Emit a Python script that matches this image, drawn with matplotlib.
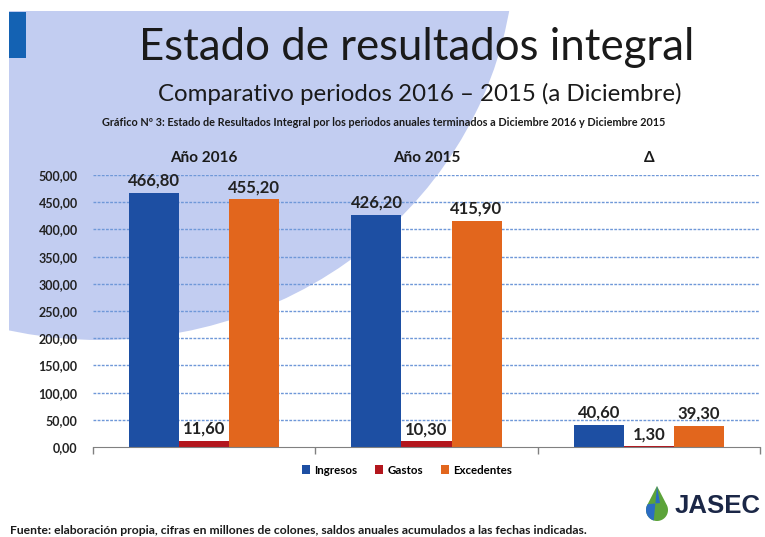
import matplotlib
matplotlib.use("Agg")
import matplotlib.pyplot as plt
import numpy as np
from matplotlib.transforms import Affine2D
from matplotlib.patches import Ellipse, Rectangle, Polygon

# ---- data ----
groups = ["Año 2016", "Año 2015", "Δ"]
series = ["Ingresos", "Gastos", "Excedentes"]
ingresos = [466.80, 426.20, 40.60]
gastos = [11.60, 10.30, 1.30]
excedentes = [455.20, 415.90, 39.30]
yticks = [0, 50, 100, 150, 200, 250, 300, 350, 400, 450, 500]
colors = ["#1d4fa3", "#b3161d", "#e2661d"]

W, H = 765, 537
fig = plt.figure(figsize=(W / 100, H / 100), dpi=100)
fig.patch.set_facecolor("white")
# pixel transform (origin top-left)
px = Affine2D().scale(1 / W, -1 / H).translate(0, 1) + fig.transFigure

FONT = "Lato"

# background decorations
fig.add_artist(Ellipse((100, -55), 830, 790, transform=px, facecolor="#c2cdf1",
                       edgecolor="none", zorder=-10))
fig.add_artist(Rectangle((0, 0), W, 11, transform=px, facecolor="white",
                         edgecolor="none", zorder=-9))
fig.add_artist(Rectangle((0, 0), 9, H, transform=px, facecolor="white",
                         edgecolor="none", zorder=-9))
fig.add_artist(Rectangle((9, 12), 17, 46, transform=px, facecolor="#1462b3",
                         edgecolor="none", zorder=-8))

# titles
fig.text(417, 48, "Estado de resultados integral", transform=px, ha="center",
         va="center", fontsize=31.5, family=FONT, color="#1a1a1a")
fig.text(420, 94, "Comparativo periodos 2016 – 2015 (a Diciembre)", transform=px,
         ha="center", va="center", fontsize=17.3, family=FONT, color="#1a1a1a")
fig.text(384, 122, "Gráfico Nº 3: Estado de Resultados Integral por los periodos anuales "
         "terminados a Diciembre 2016 y Diciembre 2015", transform=px, ha="center",
         va="center", fontsize=7.8, family=FONT, fontweight="bold", color="#1a1a1a")

# axes
ax = fig.add_axes([93 / W, (H - 447) / H, (760 - 93) / W, (447 - 175) / H])
ax.set_facecolor("none")
x = np.arange(len(groups))
bw = 50 / 222.3
vals = [ingresos, gastos, excedentes]
for i, (name, v, c) in enumerate(zip(series, vals, colors)):
    bars = ax.bar(x + (i - 1) * bw, v, bw, color=c, label=name, zorder=3)
    ax.bar_label(bars, labels=[f"{val:.2f}".replace(".", ",") for val in v],
                 padding=3, fontsize=12, fontweight="bold", family=FONT,
                 color="#222222")

ax.set_xlim(-0.5, 2.5)
ax.set_ylim(0, 500)
ax.set_yticks(yticks)
ax.set_yticklabels([f"{t:.2f}".replace(".", ",") for t in yticks], fontsize=9,
                   fontweight="bold", family=FONT, color="#222222")
ax.tick_params(axis="y", length=0, pad=11)
ax.set_xticks([-0.5, 0.5, 1.5, 2.5])
ax.set_xticklabels([])
ax.tick_params(axis="x", length=5, direction="out", color="#808080", width=1)
for t in yticks[1:]:
    ax.axhline(t, color="#6f98d8", lw=1.0, ls=(0, (2, 1)), zorder=1)
for s in ["left", "right", "top"]:
    ax.spines[s].set_visible(False)
ax.spines["bottom"].set_color("#808080")
ax.spines["bottom"].set_zorder(4)

for gx, g in zip(x, groups):
    ax.text(gx, 532, g, ha="center", va="center", fontsize=11, fontweight="bold",
            family=FONT, color="#1a1a1a", clip_on=False)

# legend
leg = fig.legend(loc="center", bbox_to_anchor=(407 / W, 1 - 470 / H), ncol=3,
                 frameon=False, prop={"family": FONT, "size": 8.3, "weight": "bold"},
                 handlelength=0.7, handleheight=0.7, handletextpad=0.4,
                 columnspacing=1.5)

# footer
fig.text(10, 530, "Fuente: elaboración propia, cifras en millones de colones, saldos "
         "anuales acumulados a las fechas indicadas.", transform=px, ha="left",
         va="center", fontsize=8.7, family=FONT, fontweight="bold", color="#1a1a1a")

# JASEC logo
cx, cy, r = 657, 510, 11
drop = [(cx, 486)] + [(cx + r * np.cos(a), cy + r * np.sin(a)) for a in np.linspace(-0.55, np.pi + 0.55, 40)]
fig.add_artist(Polygon(drop, closed=True, transform=px, facecolor="#5ca33a",
                       edgecolor="none"))
blue = [(cx, 486)] + [(cx + r * np.cos(a), cy + r * np.sin(a)) for a in np.linspace(np.pi / 2 + 0.3, np.pi + 0.55, 20)] + [(cx + 3, 503)]
fig.add_artist(Polygon(blue, closed=True, transform=px, facecolor="#2b6cc2",
                       edgecolor="none"))
fig.text(675, 506, "JASEC", transform=px, ha="left", va="center", fontsize=18.5,
         family="Liberation Sans", fontweight="bold", color="#1b2747")

fig.savefig("out.png", dpi=100)
